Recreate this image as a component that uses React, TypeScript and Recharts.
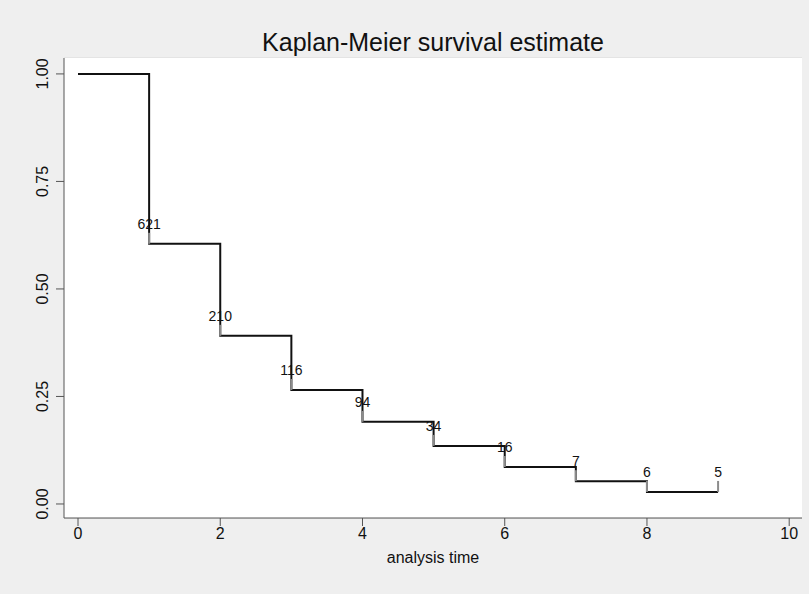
import React from 'react';
import {
  ComposedChart,
  Line,
  Scatter,
  XAxis,
  YAxis,
  CartesianGrid,
} from 'recharts';

// Kaplan-Meier step values at each analysis time
const times = [0, 1, 2, 3, 4, 5, 6, 7, 8, 9];
const survival = [1.0, 0.605, 0.391, 0.265, 0.191, 0.135, 0.086, 0.053, 0.028, 0.028];
// censored counts shown at each drop
const censorTimes = [1, 2, 3, 4, 5, 6, 7, 8, 9];
const censorCounts = ['621', '210', '116', '94', '34', '16', '7', '6', '5'];
const xTicks = [0, 2, 4, 6, 8, 10];
const yTicks = [0, 0.25, 0.5, 0.75, 1];

const stepData = times.map((t, i) => ({ t, s: survival[i] }));
const censorData = censorTimes.map((t, i) => ({
  t,
  s: survival[times.indexOf(t)],
  label: censorCounts[i],
}));

const FONT = '"Liberation Sans", Arial, sans-serif';

const CensorMark = (props: any) => {
  const { cx, cy, payload } = props;
  return (
    <g>
      <line x1={cx} x2={cx} y1={cy} y2={cy - 11} stroke="#8c8c8c" strokeWidth={2} />
      <text x={cx} y={cy - 15} textAnchor="middle" fontSize={14} fontFamily={FONT} fill="#111">
        {payload.label}
      </text>
    </g>
  );
};

const YTick = (props: any) => {
  const { x, y, payload } = props;
  return (
    <text
      x={x - 6}
      y={y}
      transform={`rotate(-90 ${x - 6} ${y})`}
      textAnchor="middle"
      fontSize={16}
      fontFamily={FONT}
      fill="#111"
    >
      {payload.value.toFixed(2)}
    </text>
  );
};

const App: React.FC = () => {
  return (
    <div style={{ position: 'absolute', left: 0, top: 0, width: 809, height: 594, background: '#efefef' }}>
      <ComposedChart
        width={809}
        height={594}
        data={stepData}
        margin={{ top: 58, right: 7, left: 0, bottom: 0 }}
        style={{ position: 'absolute', left: 0, top: 0 }}
      >
        <rect x={64} y={58} width={738} height={460} fill="#ffffff" />
        <text x={433} y={51} textAnchor="middle" fontSize={25} fontFamily={FONT} fill="#111">
          Kaplan-Meier survival estimate
        </text>
        <CartesianGrid vertical={false} stroke="#e4e4e4" strokeWidth={2} />
        <XAxis
          type="number"
          dataKey="t"
          domain={[-0.197, 10.18]}
          ticks={xTicks}
          allowDataOverflow
          stroke="#555"
          tickSize={8}
          tick={{ fontSize: 16, fontFamily: FONT, fill: '#111' }}
          height={76}
          label={{ value: 'analysis time', position: 'insideTop', offset: 34, fontSize: 16, fontFamily: FONT, fill: '#111' }}
        />
        <YAxis
          type="number"
          dataKey="s"
          domain={[-0.0326, 1.037]}
          ticks={yTicks}
          allowDataOverflow
          stroke="#555"
          tickSize={8}
          width={64}
          tick={<YTick />}
        />
        <Line
          type="stepAfter"
          dataKey="s"
          stroke="#111"
          strokeWidth={2}
          dot={false}
          isAnimationActive={false}
        />
        <Scatter data={censorData} dataKey="s" shape={<CensorMark />} isAnimationActive={false} />
      </ComposedChart>
    </div>
  );
};

export default App;
